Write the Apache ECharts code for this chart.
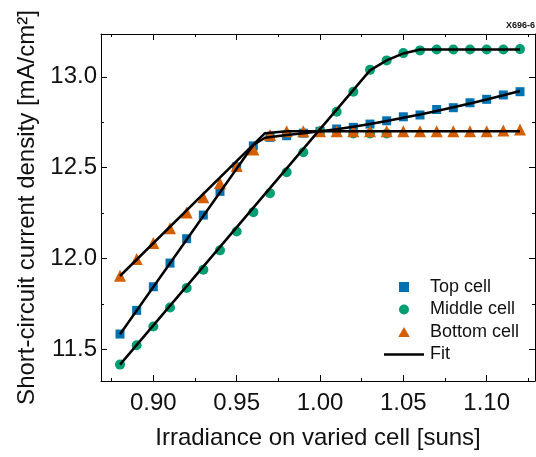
<!DOCTYPE html>
<html>
<head>
<meta charset="utf-8">
<script src="https://cdn.jsdelivr.net/npm/echarts@6/dist/echarts.min.js"></script>
<style>
  html, body { margin: 0; padding: 0; background: #fff; }
  #chart { width: 536px; height: 457px; }
</style>
</head>
<body>
<div id="chart"></div>
<script>
// irradiance steps of the measurement
const irradiance = [0.88, 0.89, 0.90, 0.91, 0.92, 0.93, 0.94, 0.95, 0.96, 0.97, 0.98, 0.99, 1.00,
  1.01, 1.02, 1.03, 1.04, 1.05, 1.06, 1.07, 1.08, 1.09, 1.10, 1.11, 1.12];

const topCell = [11.586, 11.716, 11.846, 11.976, 12.11, 12.24, 12.37, 12.505, 12.62, 12.667, 12.676, 12.69, 12.70,
  12.713, 12.722, 12.74, 12.758, 12.78, 12.79, 12.82, 12.83, 12.857, 12.876, 12.90, 12.918];
const middleCell = [11.418, 11.524, 11.628, 11.732, 11.839, 11.94, 12.046, 12.15, 12.256, 12.36, 12.475, 12.585, 12.70,
  12.808, 12.918, 13.038, 13.09, 13.13, 13.145, 13.15, 13.15, 13.15, 13.15, 13.15, 13.152];
const bottomCell = [11.907, 11.998, 12.086, 12.168, 12.254, 12.338, 12.415, 12.51, 12.60, 12.68, 12.70, 12.70, 12.70,
  12.70, 12.70, 12.70, 12.70, 12.70, 12.70, 12.70, 12.70, 12.70, 12.70, 12.705, 12.71];

// middle cell points partly hidden under the bottom cell triangles
const middleHiddenX = [1.02, 1.03, 1.04];
const middleHiddenY = [12.688, 12.688, 12.688];

// fit curves
const topFitX = [0.88, 0.96, 0.967, 0.98, 0.99, 1.00, 1.01, 1.02, 1.03, 1.04, 1.05, 1.06, 1.07, 1.08, 1.09, 1.10, 1.11, 1.12];
const topFitY = [11.585, 12.625, 12.665, 12.68, 12.69, 12.70, 12.712, 12.725, 12.74, 12.757, 12.775, 12.793, 12.812, 12.832, 12.853, 12.875, 12.898, 12.922];
const middleFitX = [0.88, 1.03, 1.04, 1.05, 1.06, 1.12];
const middleFitY = [11.418, 13.035, 13.09, 13.128, 13.15, 13.15];
const bottomFitX = [0.88, 0.967, 0.98, 1.12];
const bottomFitY = [11.905, 12.69, 12.70, 12.70];

const xMajor = [0.90, 0.95, 1.00, 1.05, 1.10];
const xMinor = [0.875, 0.925, 0.975, 1.025, 1.075, 1.125];
const yMajor = [11.5, 12.0, 12.5, 13.0];
const yMinor = [11.75, 12.25, 12.75];

const X_MIN = 0.8686, X_MAX = 1.129;
const Y_MIN = 11.328, Y_MAX = 13.235;
const FONT = "Liberation Sans, Arial, sans-serif";
const BLUE = "#0072B2", GREEN = "#009E73", ORANGE = "#D55E00";

function zip(xs, ys) {
  return xs.map((x, i) => [x, ys[i]]);
}

function tickAxis(position, ticks, length, opts) {
  return Object.assign({
    type: "value",
    position: position,
    splitLine: { show: false },
    axisLine: { show: false },
    axisTick: { show: true, inside: true, length: length, customValues: ticks,
      lineStyle: { color: "#000", width: 1 } },
    axisLabel: { show: false },
  }, opts);
}

const chart = echarts.init(document.getElementById("chart"), null, { renderer: "canvas" });

const xBase = { min: X_MIN, max: X_MAX };
const yBase = { min: Y_MIN, max: Y_MAX };
const frameLine = { show: true, onZero: false, lineStyle: { color: "#000", width: 1 } };

chart.setOption({
  animation: false,
  textStyle: { fontFamily: FONT },
  grid: { left: 101, top: 34, width: 434, height: 347, outerBoundsMode: "none", containLabel: false },
  xAxis: [
    tickAxis("bottom", xMajor, 6, Object.assign({}, xBase, {
      axisLine: frameLine,
      axisLabel: { show: true, customValues: xMajor, margin: 10, fontSize: 24, color: "#111",
        fontFamily: FONT, formatter: (v) => v.toFixed(2) },
      name: "Irradiance on varied cell [suns]",
      nameLocation: "middle",
      nameGap: 45,
      nameTextStyle: { fontSize: 24, color: "#111", fontFamily: FONT },
    })),
    tickAxis("bottom", xMinor, 3, xBase),
    tickAxis("top", xMajor, 6, Object.assign({}, xBase, { axisLine: frameLine })),
    tickAxis("top", xMinor, 3, xBase),
  ],
  yAxis: [
    tickAxis("left", yMajor, 6, Object.assign({}, yBase, {
      axisLine: frameLine,
      axisLabel: { show: true, customValues: yMajor, margin: 4, fontSize: 24, color: "#111",
        fontFamily: FONT, formatter: (v) => v.toFixed(1) },
      name: "Short-circuit current density [mA/cm²]",
      nameLocation: "middle",
      nameRotate: 90,
      nameGap: 61,
      nameTextStyle: { fontSize: 24, color: "#111", fontFamily: FONT },
    })),
    tickAxis("left", yMinor, 3, yBase),
    tickAxis("right", yMajor, 6, Object.assign({}, yBase, { axisLine: frameLine })),
    tickAxis("right", yMinor, 3, yBase),
  ],
  legend: {
    orient: "vertical",
    left: 384,
    top: 278,
    padding: 0,
    itemWidth: 40,
    itemHeight: 10,
    itemGap: 4.5,
    symbolKeepAspect: true,
    textStyle: { fontSize: 18, color: "#111", fontFamily: FONT, padding: [0, 0, 0, 1] },
    data: [
      { name: "Top cell", icon: "path://M0,0H9V9H0Z" },
      { name: "Middle cell", icon: "path://M5,0A5,5,0,1,1,4.99,0Z" },
      { name: "Bottom cell", icon: "path://M6,0L12,10.4L0,10.4Z" },
      { name: "Fit", icon: "path://M0,0H40V2.5H0Z" },
    ],
  },
  graphic: [{
    type: "text",
    right: 1,
    top: 21,
    style: { text: "X696-6", font: "bold 9px " + FONT, fill: "#111" },
  }],
  series: [
    {
      name: "Top cell", type: "scatter", symbol: "rect", symbolSize: 9,
      itemStyle: { color: BLUE, opacity: 1 }, data: zip(irradiance, topCell), z: 2,
    },
    {
      name: "Middle cell", type: "scatter", symbol: "circle", symbolSize: 10,
      itemStyle: { color: GREEN, opacity: 1 },
      data: zip(middleHiddenX, middleHiddenY).concat(zip(irradiance, middleCell)), z: 2,
    },
    {
      name: "Bottom cell", type: "scatter", symbol: "triangle", symbolSize: 12,
      itemStyle: { color: ORANGE, opacity: 1 }, data: zip(irradiance, bottomCell), z: 3,
    },
    {
      name: "Fit", type: "line", symbol: "none", data: zip(topFitX, topFitY), z: 5,
      lineStyle: { color: "#000", width: 2.5 }, itemStyle: { color: "#000" },
    },
    {
      name: "Fit", type: "line", symbol: "none", data: zip(middleFitX, middleFitY), z: 5,
      lineStyle: { color: "#000", width: 2.5 }, itemStyle: { color: "#000" },
    },
    {
      name: "Fit", type: "line", symbol: "none", data: zip(bottomFitX, bottomFitY), z: 5,
      lineStyle: { color: "#000", width: 2.5 }, itemStyle: { color: "#000" },
    },
  ],
});
</script>
</body>
</html>
